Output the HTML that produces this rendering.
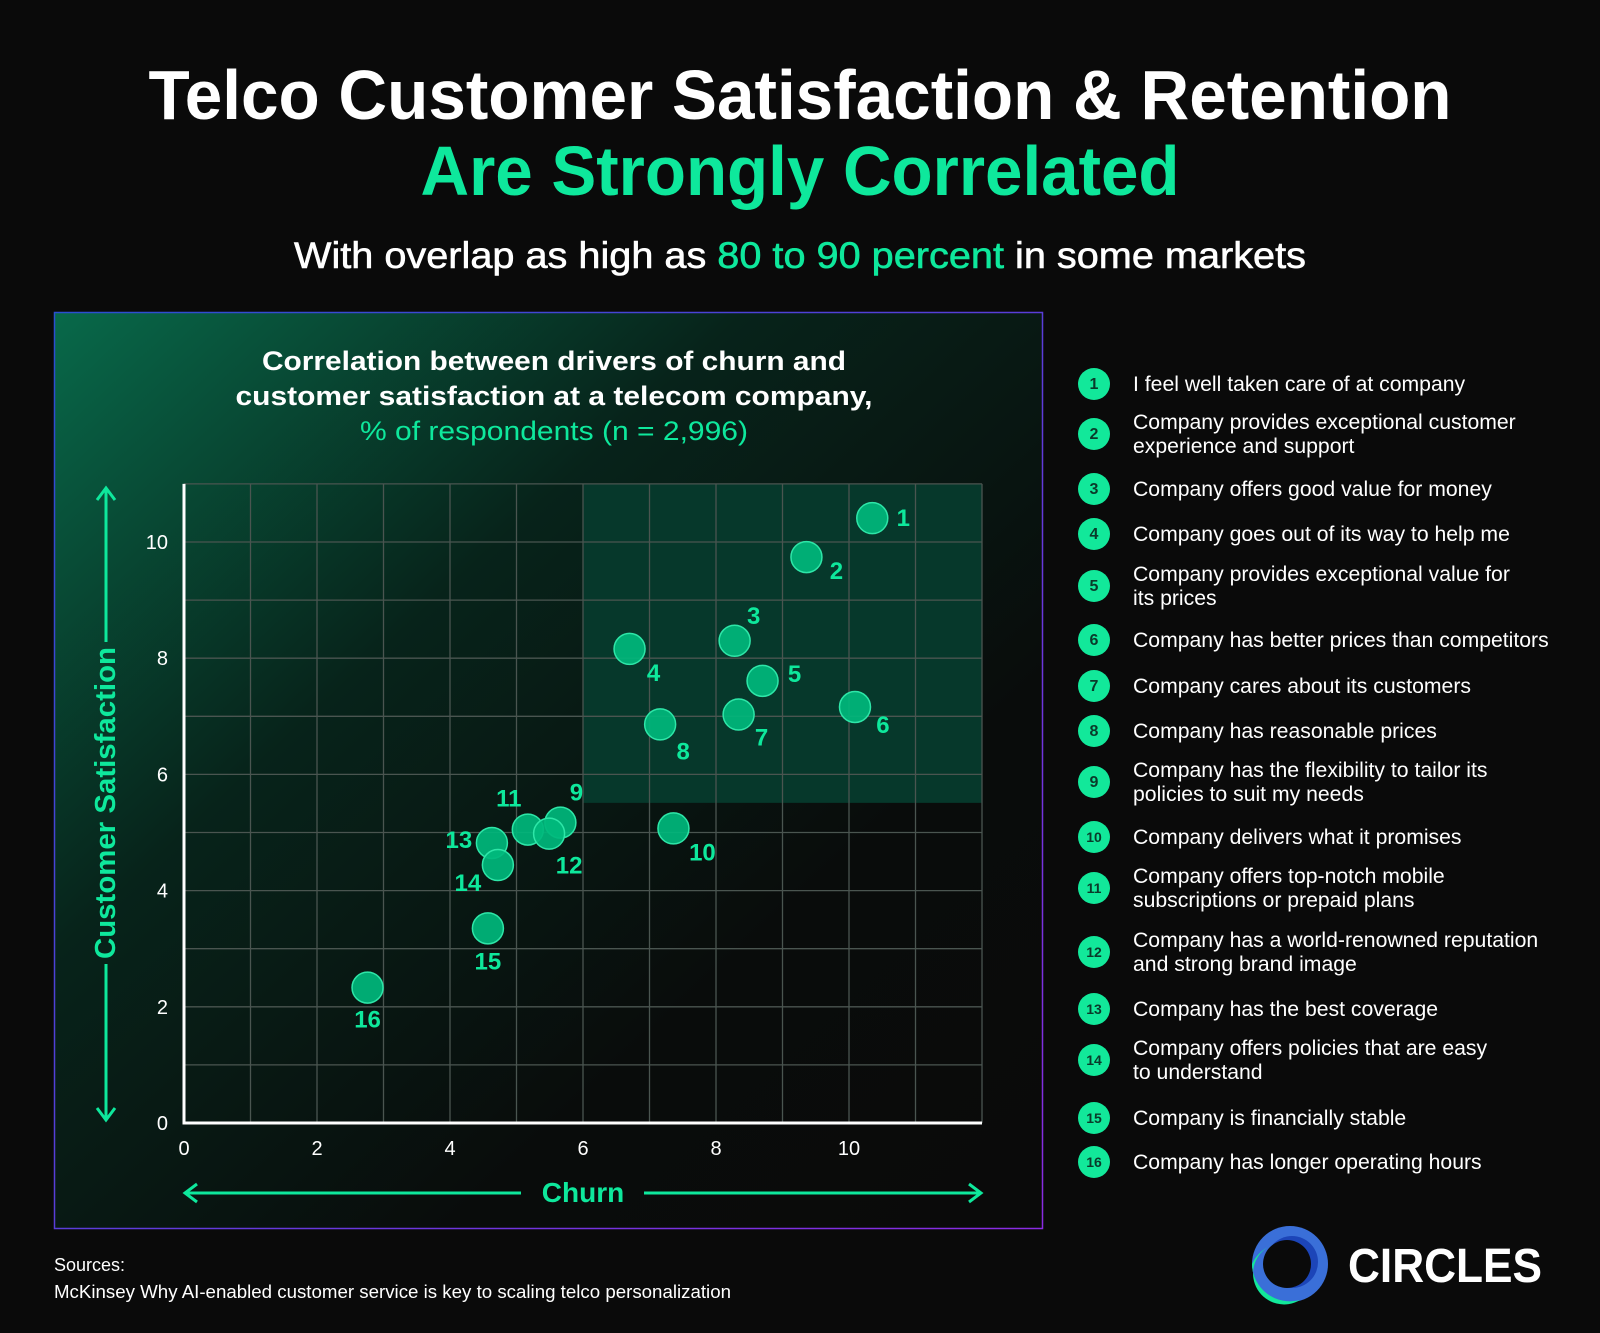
<!DOCTYPE html>
<html><head><meta charset="utf-8"><style>
html,body{margin:0;padding:0;background:#0a0a0a;}
svg{display:block;}
text{font-family:"Liberation Sans",sans-serif;}
</style></head><body>
<svg id="page" width="1600" height="1333" viewBox="0 0 1600 1333" xmlns="http://www.w3.org/2000/svg">
<defs>
<linearGradient id="boxbg" x1="0" y1="0" x2="1" y2="1">
<stop offset="0" stop-color="#08694a"/>
<stop offset="0.35" stop-color="#07231a"/>
<stop offset="0.7" stop-color="#090c0b"/>
<stop offset="1" stop-color="#0a0a0a"/>
</linearGradient>
<linearGradient id="boxborder" x1="0" y1="0" x2="1" y2="1">
<stop offset="0" stop-color="#2a4fd0"/>
<stop offset="1" stop-color="#8a2be2"/>
</linearGradient>
</defs>
<rect width="1600" height="1333" fill="#0a0a0a"/>
<text x="800" y="119" text-anchor="middle" font-size="70" font-weight="bold" fill="#ffffff" textLength="1303" lengthAdjust="spacingAndGlyphs">Telco Customer Satisfaction &amp; Retention</text>
<text x="800" y="195" text-anchor="middle" font-size="70" font-weight="bold" fill="#0ee89c" textLength="759" lengthAdjust="spacingAndGlyphs">Are Strongly Correlated</text>
<text x="800" y="268" text-anchor="middle" font-size="37" fill="#ffffff" textLength="1012" lengthAdjust="spacingAndGlyphs" stroke="#ffffff" stroke-width="0.6">With overlap as high as <tspan fill="#0ee89c" stroke="#0ee89c">80 to 90 percent</tspan> in some markets</text>

<rect x="54.5" y="312.5" width="988" height="916" fill="url(#boxbg)" stroke="url(#boxborder)" stroke-width="1.5"/>
<text x="554" y="370" text-anchor="middle" font-size="27" font-weight="bold" fill="#ffffff" textLength="584" lengthAdjust="spacingAndGlyphs">Correlation between drivers of churn and</text>
<text x="554" y="405" text-anchor="middle" font-size="27" font-weight="bold" fill="#ffffff" textLength="637" lengthAdjust="spacingAndGlyphs">customer satisfaction at a telecom company,</text>
<text x="554" y="440" text-anchor="middle" font-size="27" fill="#0ee89c" textLength="388" lengthAdjust="spacingAndGlyphs">% of respondents (n = 2,996)</text>

<g id="plot"></g>

<g id="legend"></g>

<text x="54" y="1271" font-size="18" fill="#ffffff">Sources:</text>
<text x="54" y="1298" font-size="18" fill="#ffffff" textLength="677" lengthAdjust="spacingAndGlyphs">McKinsey Why AI-enabled customer service is key to scaling telco personalization</text>

<g>
<circle cx="1290" cy="1264" r="38" fill="#3a6fd8"/>
<path d="M1268 1247 A30 30 0 0 0 1300 1300 A38 38 0 0 1 1252 1264 A38 38 0 0 1 1268 1247Z" fill="#12e89a"/>
<circle cx="1292" cy="1262" r="26" fill="#1c45b8"/>
<circle cx="1287" cy="1264" r="24" fill="#0a0a0a"/>
<text x="1348" y="1282" font-size="48" font-weight="bold" fill="#ffffff" textLength="194" lengthAdjust="spacingAndGlyphs">CIRCLES</text>
</g>
</svg>
<script>
const ids = ["1","2","3","4","5","6","7","8","9","10","11","12","13","14","15","16"];
const churn = [10.35,9.36,8.28,6.70,8.70,10.09,8.34,7.16,5.66,7.36,5.17,5.49,4.63,4.72,4.57,2.76];
const satisfaction = [10.41,9.74,8.30,8.16,7.61,7.16,7.03,6.86,5.17,5.07,5.05,4.98,4.82,4.44,3.35,2.33];
const xTicks = [0,2,4,6,8,10];
const yTicks = [0,2,4,6,8,10];
const legendLabels = [
 ["I feel well taken care of at company"],
 ["Company provides exceptional customer","experience and support"],
 ["Company offers good value for money"],
 ["Company goes out of its way to help me"],
 ["Company provides exceptional value for","its prices"],
 ["Company has better prices than competitors"],
 ["Company cares about its customers"],
 ["Company has reasonable prices"],
 ["Company has the flexibility to tailor its","policies to suit my needs"],
 ["Company delivers what it promises"],
 ["Company offers top-notch mobile","subscriptions or prepaid plans"],
 ["Company has a world-renowned reputation","and strong brand image"],
 ["Company has the best coverage"],
 ["Company offers policies that are easy","to understand"],
 ["Company is financially stable"],
 ["Company has longer operating hours"]
];
const highlightX = 6, highlightY = 5.51;
const NS = "http://www.w3.org/2000/svg";
const X0 = 184, XU = 66.5, Y0 = 1123, YU = 58.1, XMAX = 12, YMAX = 11;
function sx(v){return X0 + v*XU;}
function sy(v){return Y0 - v*YU;}
function mk(tag, attrs, parent){const e=document.createElementNS(NS,tag);for(const k in attrs)e.setAttribute(k,attrs[k]);parent.appendChild(e);return e;}
const plot = document.getElementById('plot');
let hl = mk('rect',{x:sx(highlightX),y:sy(YMAX),width:sx(XMAX)-sx(highlightX),height:sy(highlightY)-sy(YMAX),fill:'#06382b'},plot);


for(let i=0;i<=XMAX;i++){
 const g=mk('line',{x1:sx(i),x2:sx(i),y1:sy(0),y2:sy(YMAX),stroke:'#4a5550','stroke-width':1.3},plot);
 
 
}
for(let i=0;i<=YMAX;i++){
 const g=mk('line',{x1:sx(0),x2:sx(XMAX),y1:sy(i),y2:sy(i),stroke:'#4a5550','stroke-width':1.3},plot);
 
 
}
let ax=mk('path',{d:`M${sx(0)} ${sy(YMAX)} V${sy(0)} H${sx(XMAX)}`,stroke:'#ffffff','stroke-width':3,fill:'none'},plot);


xTicks.forEach(t=>{
 const e=mk('text',{x:sx(t),y:1155,'text-anchor':'middle','font-size':20,fill:'#ffffff'},plot);
 e.textContent=t;
 
 
});
yTicks.forEach(t=>{
 const e=mk('text',{x:168,y:sy(t)+7,'text-anchor':'end','font-size':20,fill:'#ffffff'},plot);
 e.textContent=t;
 
 
});
const G='#0ee89c';
let yt=mk('text',{x:0,y:0,transform:'translate(115 803) rotate(-90)','text-anchor':'middle','font-size':29,'font-weight':'bold',fill:G,textLength:312,lengthAdjust:'spacingAndGlyphs'},plot);
yt.textContent='Customer Satisfaction';


let ya=mk('path',{d:'M106 642 V488 M97 500 L106 488 L115 500 M106 964 V1120 M97 1108 L106 1120 L115 1108',stroke:G,'stroke-width':3,fill:'none'},plot);


let xt=mk('text',{x:583,y:1202,'text-anchor':'middle','font-size':28,'font-weight':'bold',fill:G},plot);
xt.textContent='Churn';


let xa=mk('path',{d:'M521 1193 H185 M197 1184 L185 1193 L197 1202 M644 1193 H981 M969 1184 L981 1193 L969 1202',stroke:G,'stroke-width':3,fill:'none'},plot);


const labelOff=[[31,0],[30,14],[19,-25],[24,24],[32,-7],[28,18],[23,23],[23,27],[16,-30],[29,24],[-19,-31],[20,32],[-33,-3],[-30,18],[0,33],[0,32]];
churn.forEach((c,i)=>{
 const cx=sx(c), cy=sy(satisfaction[i]);
 const p=mk('circle',{cx:cx,cy:cy,r:15.5,fill:'#00b97c','fill-opacity':0.92,stroke:'#2ee6a8','stroke-width':1.5},plot);
 
 
 const t=mk('text',{x:cx+labelOff[i][0],y:cy+labelOff[i][1]+8,'text-anchor':'middle','font-size':24,'font-weight':'bold',fill:G},plot);
 t.textContent=ids[i];
 
 
});
const leg=document.getElementById('legend');
const rowY=[384,434,489,534,586,640,686,731,782,837,888,952,1009,1060,1118,1162];
legendLabels.forEach((lines,i)=>{
 const g=mk('g',{},leg);
 
 
 const cy=rowY[i];
 mk('circle',{cx:1094,cy:cy,r:16,fill:'#12e89a'},g);
 const n=mk('text',{x:1094,y:cy+5,'text-anchor':'middle','font-size':ids[i].length>1?14:16,fill:'#0a3a2a','font-weight':'bold'},g);
 n.textContent=ids[i];
 lines.forEach((ln,j)=>{
  const y = lines.length===1 ? cy+7 : cy-5+j*24;
  const t=mk('text',{x:1133,y:y,'font-size':21.2,fill:'#ffffff'},g);
  t.textContent=ln;
 });
});
</script>
</body></html>
